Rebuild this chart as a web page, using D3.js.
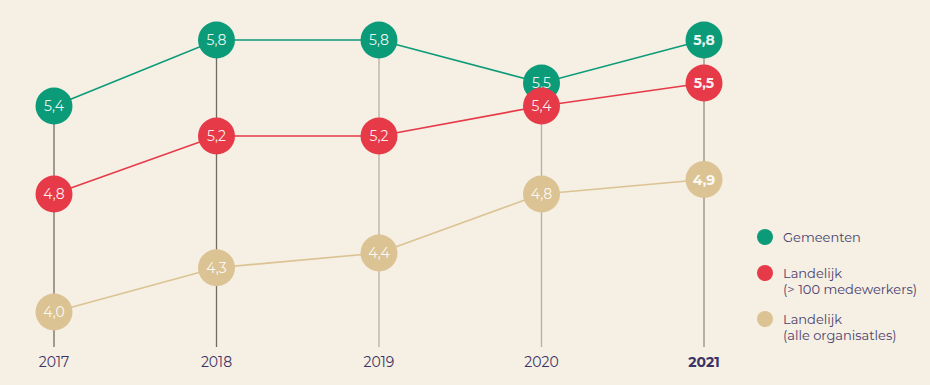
<!DOCTYPE html>
<html><head><meta charset="utf-8">
<script src="https://cdn.jsdelivr.net/npm/d3@7"></script>
<style>
html,body{margin:0;padding:0;background:#f5efe4;}
svg{display:block;font-family:"Montserrat","Lato","Open Sans",sans-serif;}
</style></head>
<body><svg id="c" width="930" height="385"></svg>
<script>
const years = ["2017","2018","2019","2020","2021"];
const gemeenten = [5.4, 5.8, 5.8, 5.5, 5.8];
const landelijk100 = [4.8, 5.2, 5.2, 5.4, 5.5];
const landelijkAlle = [4.0, 4.3, 4.4, 4.8, 4.9];
const seriesNames = [["Gemeenten"], ["Landelijk", "(> 100 medewerkers)"], ["Landelijk", "(alle organisatles)"]];

const colors = ["#0c9b78", "#e63a48", "#dcc393"];
const series = [gemeenten, landelijk100, landelijkAlle];

const svg = d3.select("#c");
const x = d3.scalePoint().domain(years).range([54, 704]);
// piecewise-linear value scale (the original spreads the upper values a bit)
const y = d3.scaleLinear().domain([4.0, 4.8, 5.2, 5.4, 5.5, 5.8]).range([312, 194, 136, 106, 83, 40]);
const fmt = v => d3.format(".1f")(v).replace(".", ",");

// vertical lines
const lineColors = ["#6f6b64", "#6f6b64", "#b7afa4", "#b7afa4", "#b7afa4"];
years.forEach((yr, i) => {
  const top = d3.max(series, s => s[i]);
  svg.append("line")
    .attr("x1", x(yr)).attr("x2", x(yr))
    .attr("y1", y(top)).attr("y2", 347)
    .attr("stroke", lineColors[i]).attr("stroke-width", i === 4 ? 2 : 1.3);
  svg.append("text")
    .attr("x", x(yr)).attr("y", 367)
    .attr("text-anchor", "middle")
    .attr("font-size", 14)
    .attr("font-weight", i === 4 ? 700 : 400)
    .attr("fill", "#3b3366")
    .text(yr);
});

// lines
const line = d3.line().x((d, i) => x(years[i])).y(d => y(d));
series.forEach((s, k) => {
  svg.append("path").datum(s)
    .attr("d", line).attr("fill", "none")
    .attr("stroke", colors[k]).attr("stroke-width", 1.6);
});

// circles
series.forEach((s, k) => {
  const g = svg.append("g");
  s.forEach((v, i) => {
    g.append("circle").attr("cx", x(years[i])).attr("cy", y(v)).attr("r", 18.5)
      .attr("fill", colors[k]);
    g.append("text").attr("x", x(years[i])).attr("y", y(v) + 5)
      .attr("text-anchor", "middle").attr("font-size", 14)
      .attr("font-weight", i === 4 ? 700 : 400)
      .attr("fill", "#ffffff").attr("fill-opacity", 0.92)
      .text(fmt(v));
  });
});

// legend
const legY = [237, 273, 319];
seriesNames.forEach((lines, k) => {
  svg.append("circle").attr("cx", 765).attr("cy", legY[k]).attr("r", 8).attr("fill", colors[k]);
  lines.forEach((t, j) => {
    svg.append("text").attr("x", 783).attr("y", legY[k] + 4.5 + j * 16)
      .attr("font-size", 13).attr("fill", "#4a426e").text(t);
  });
});
</script></body></html>
